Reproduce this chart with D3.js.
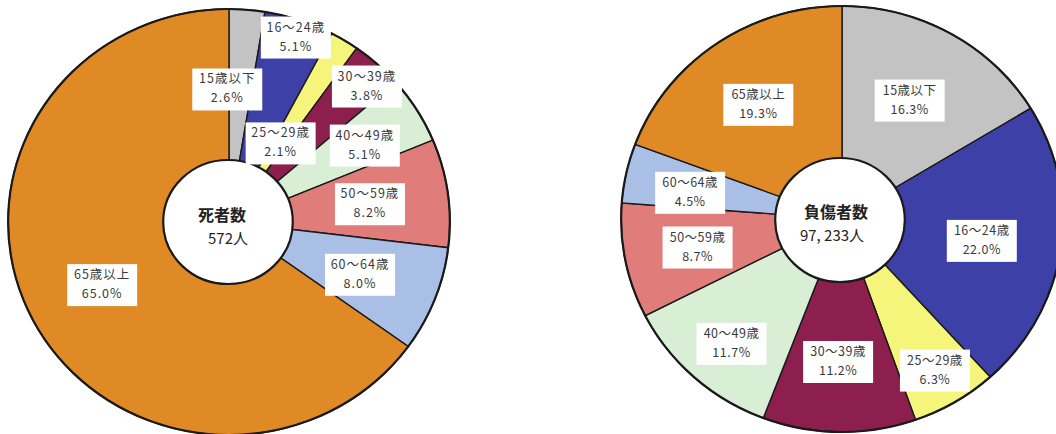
<!DOCTYPE html>
<html><head><meta charset="utf-8">
<script src="https://cdn.jsdelivr.net/npm/d3@7"></script>
<style>html,body{margin:0;padding:0;background:#fff;}svg{display:block;}</style>
</head><body>
<svg id="c" width="1056" height="434"></svg>
<script>
// Data
const categories = ["15歳以下","16～24歳","25～29歳","30～39歳","40～49歳","50～59歳","60～64歳","65歳以上"];
const deathsPct = [2.6, 5.1, 2.1, 3.8, 5.1, 8.2, 8.0, 65.0];
const injuredPct = [16.3, 22.0, 6.3, 11.2, 11.7, 8.7, 4.5, 19.3];
const deathsTitle = ["死者数", "572人"];
const injuredTitle = ["負傷者数", "97, 233人"];
const colors = ["#c3c3c3","#3d40a6","#f5f57c","#8c1f4d","#d8efd6","#e07d7b","#a9bfe6","#df8a24"];

// layout (label nudges relative to centroid)
const deathsNudge = [[-14,12],[19,-47],[-27,45],[37,-28],[8,0],[-8,2],[-9,0],[7,-3]];
const injuredNudge = [[-6,8],[-9,1],[16,27],[-2,-2],[-10,17],[3,0],[-5,5],[2,5]];

const svg = d3.select("#c");
const R = 213, SX = 1.037;

function drawPie(cx, cy, values, nudge, title, holeDx, holeDy, textOffsets, letterSp) {
  const pie = d3.pie().sort(null).value(d => d);
  const arcs = pie(values);
  const arc = d3.arc().innerRadius(0).outerRadius(R);
  const g = svg.append("g").attr("transform", `translate(${cx},${cy}) scale(${SX},1)`);
  g.selectAll("path").data(arcs).enter().append("path")
    .attr("d", arc)
    .attr("fill", (d,i) => colors[i])
    .attr("stroke", "#1a1a1a").attr("stroke-width", 1.4)
    .attr("vector-effect", "non-scaling-stroke");
  g.append("circle").attr("r", R).attr("fill", "none")
    .attr("stroke", "#1a1a1a").attr("stroke-width", 2.2)
    .attr("vector-effect", "non-scaling-stroke");
  g.append("ellipse").attr("cx", holeDx / SX).attr("cy", holeDy).attr("rx", 62.5).attr("ry", 62)
    .attr("fill", "#fff").attr("stroke", "#1a1a1a").attr("stroke-width", 2.2)
    .attr("vector-effect", "non-scaling-stroke");

  const labelArc = d3.arc().innerRadius(145).outerRadius(145);
  const lg = svg.append("g").attr("transform", `translate(${cx},${cy})`);
  const labels = lg.selectAll("g.lab").data(arcs).enter().append("g")
    .attr("transform", (d,i) => {
      const c = labelArc.centroid(d);
      return `translate(${c[0]*SX + nudge[i][0]},${c[1] + nudge[i][1]})`;
    });
  labels.append("rect").attr("x", -35).attr("y", -21).attr("width", 70).attr("height", 42).attr("fill", "#fff");
  labels.append("text").attr("y", -6).attr("text-anchor", "middle")
    .attr("font-family", "'Noto Sans CJK JP', sans-serif").attr("font-size", 12.5).attr("fill", "#3a3a3a")
    .attr("letter-spacing", letterSp)
    .text((d,i) => categories[i]);
  labels.append("text").attr("y", 13).attr("text-anchor", "middle")
    .attr("font-family", "'Noto Sans CJK JP', sans-serif").attr("font-size", 12.5).attr("fill", "#3a3a3a")
    .attr("letter-spacing", letterSp)
    .text(d => d.data.toFixed(1) + "%");

  lg.append("text").attr("x", textOffsets[0][0]).attr("y", textOffsets[0][1]).attr("text-anchor", "middle")
    .attr("font-family", "'Noto Sans CJK JP', sans-serif").attr("font-weight", "bold").attr("font-size", 16).attr("fill", "#222")
    .text(title[0]);
  lg.append("text").attr("x", textOffsets[1][0]).attr("y", textOffsets[1][1]).attr("text-anchor", "middle")
    .attr("font-family", "'Noto Sans CJK JP', sans-serif").attr("font-size", 15).attr("fill", "#222")
    .text(title[1]);
}

drawPie(229, 222, deathsPct, deathsNudge, deathsTitle, -1, 0, [[-7, -1],[-1, 22]], 1);
drawPie(842, 219, injuredPct, injuredNudge, injuredTitle, -2, 1, [[-6, -1],[-10, 22]], 0.5);
</script>
</body></html>
